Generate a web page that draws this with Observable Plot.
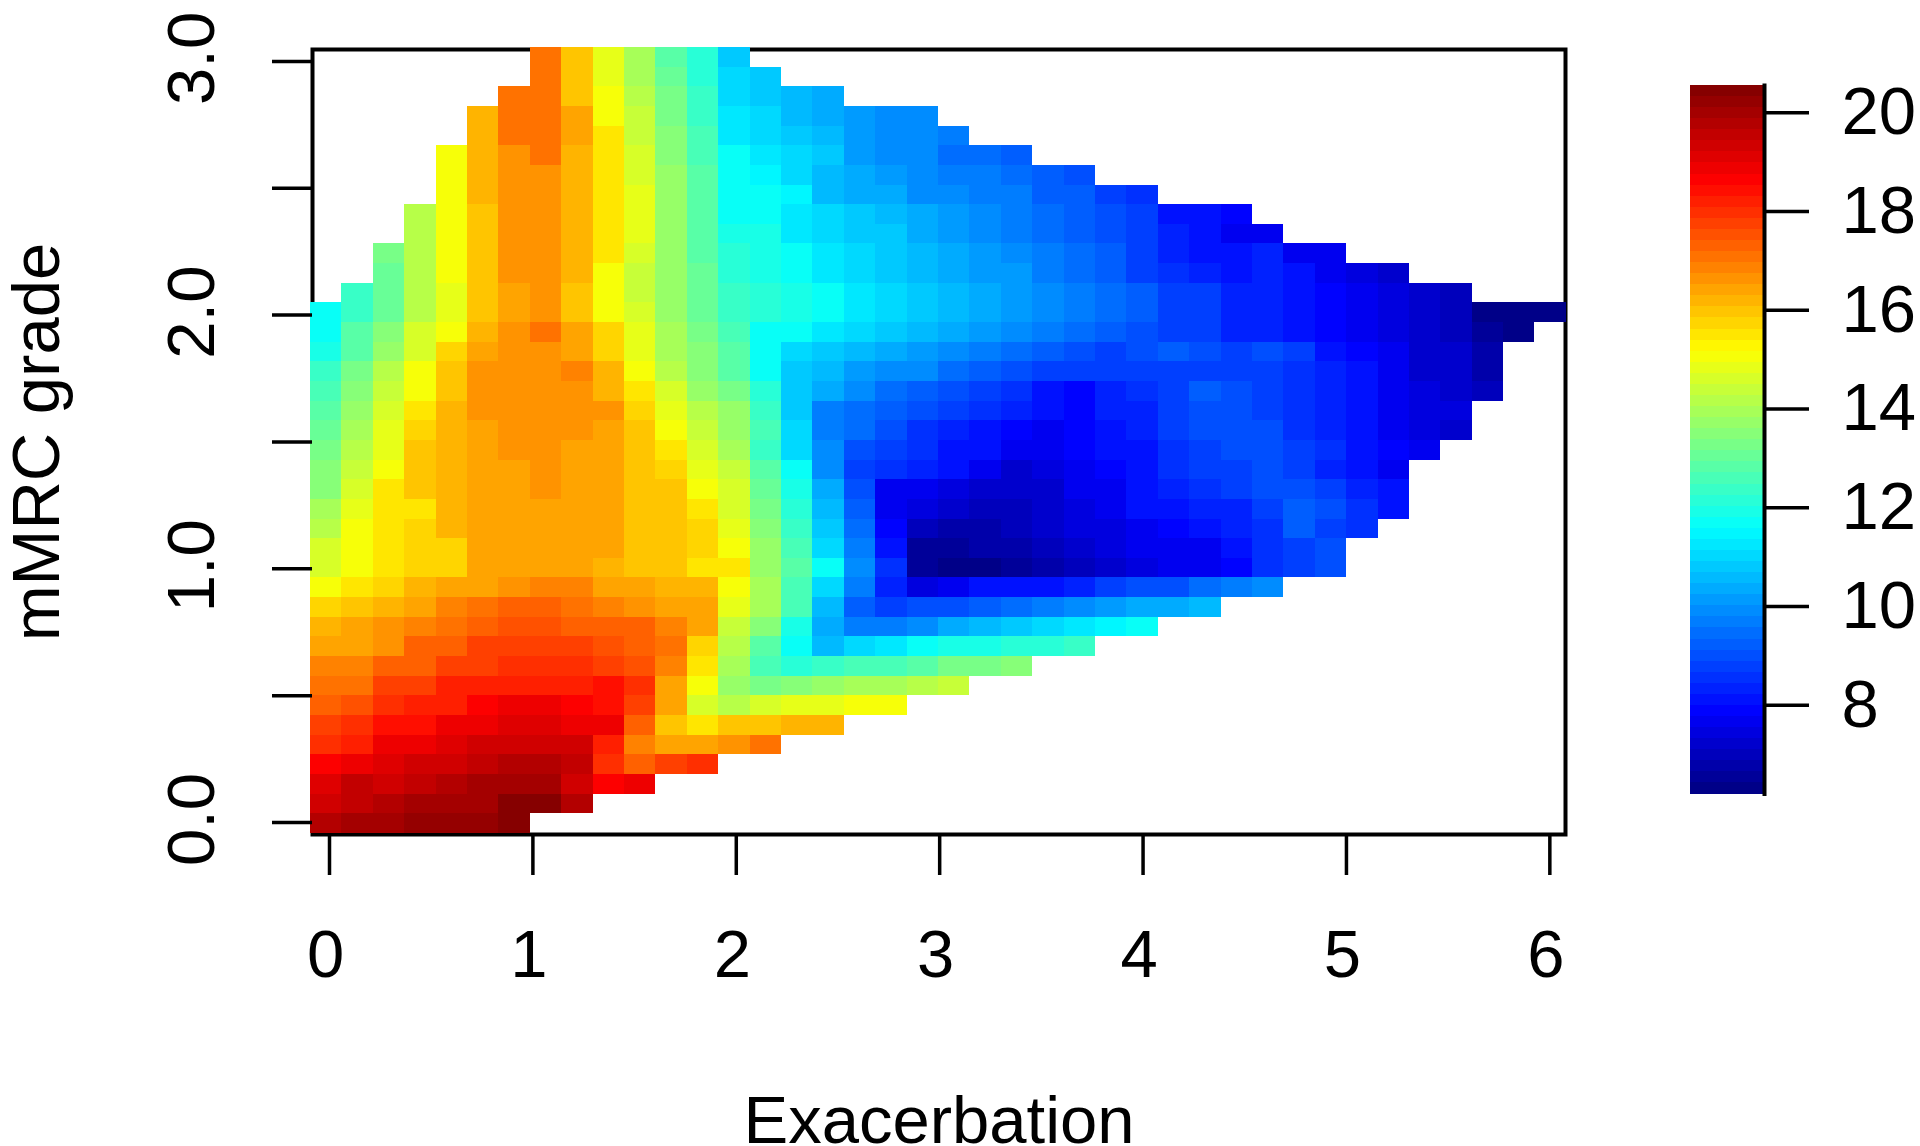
<!DOCTYPE html>
<html>
<head>
<meta charset="utf-8">
<script src="https://cdn.jsdelivr.net/npm/d3@7"></script>
<script src="https://cdn.jsdelivr.net/npm/@observablehq/plot@0.6"></script>
<style>
html,body{margin:0;padding:0;background:#fff;}
#wrap{position:relative;width:1920px;height:1146px;overflow:hidden;font-family:"Liberation Sans",Arial,sans-serif;}
#wrap svg{position:absolute;top:0;left:0;overflow:visible;background:transparent;}
#wrap g[aria-label$="tick"], #wrap g[aria-label$="tick"] path{stroke-width:3.5px !important;stroke:#000 !important;}
</style>
</head>
<body>
<div id="wrap"></div>
<script>
// Estimated outcome value per grid cell. Each row runs top (mMRC 3) to bottom (mMRC 0);
// rowStart gives the first filled column of the row.
const rowStart = [7,7,6,5,5,4,4,4,3,3,2,2,1,0,0,0,0,0,0,0,0,0,0,0,0,0,0,0,0,0,0,0,0,0,0,0,0,0,0,0];
const rowValues = [
[17.0,15.95,14.9,13.9,12.9,12.1,10.75],
[17.0,16.05,14.9,14.0,13.1,12.2,11.0,10.85],
[17.0,17.0,16.05,15.15,14.1,13.2,12.3,11.0,10.8,10.5,10.25],
[16.2,17.0,17.0,16.4,15.15,14.3,13.3,12.3,11.2,11.0,10.6,10.4,10.1,10.0,9.8],
[16.2,17.0,17.0,16.4,15.6,14.3,13.5,12.6,11.2,11.0,10.7,10.5,10.1,10.0,9.8,9.6],
[15.15,16.2,16.7,17.0,16.2,15.6,14.5,13.5,12.6,11.6,11.3,11.1,10.75,10.1,10.0,9.8,9.55,9.35,9.3],
[15.15,16.2,16.7,16.7,16.2,15.6,14.5,13.7,12.8,11.6,11.4,11.1,10.5,10.3,10.2,9.95,9.75,9.6,9.5,9.2,9.1],
[15.15,16.2,16.7,16.7,16.2,15.6,14.8,13.7,12.8,11.8,11.6,11.55,10.55,10.35,10.25,10.0,9.85,9.7,9.6,9.25,9.15,8.7,8.5],
[14.1,15.15,15.95,16.7,16.7,16.2,15.6,14.8,13.8,12.8,11.8,11.6,11.3,10.95,10.7,10.6,10.3,10.2,9.9,9.7,9.4,9.25,8.95,8.7,8.2,8.05,7.9],
[14.1,15.15,15.95,16.7,16.7,16.2,15.6,14.8,13.8,12.9,12.0,11.85,11.2,11.0,10.75,10.7,10.3,10.15,9.85,9.75,9.45,9.3,8.95,8.75,8.4,8.2,7.75,7.7],
[13.3,14.1,15.15,15.95,16.7,16.7,16.2,15.6,14.5,13.8,12.9,12.1,11.9,11.6,11.2,11.0,10.8,10.5,10.4,10.15,10.0,9.7,9.4,9.2,8.8,8.4,8.2,8.0,8.3,7.75,7.6],
[13.15,14.1,15.15,15.95,16.7,16.7,16.2,15.15,14.3,13.8,13.0,12.2,12.0,11.6,11.3,11.05,10.85,10.6,10.45,10.2,10.05,9.7,9.45,9.2,8.8,8.45,8.25,8.05,8.4,8.0,7.75,7.4,7.2],
[12.4,13.0,14.2,14.8,15.95,16.5,16.7,15.95,15.15,14.4,13.8,13.0,12.3,12.1,11.9,11.6,11.35,11.1,10.85,10.65,10.4,10.15,9.85,9.65,9.4,9.2,8.85,8.7,8.4,8.4,8.2,7.8,7.6,7.4,7.15,7.0],
[11.6,12.4,13.1,14.2,14.8,15.95,16.5,16.7,15.95,15.15,14.5,13.8,13.0,12.3,12.15,11.9,11.6,11.35,11.1,10.85,10.65,10.4,10.15,9.85,9.65,9.4,9.2,8.85,8.7,8.4,8.4,8.2,7.85,7.7,7.5,7.1,7.0,6.4,6.2,6.2],
[11.8,12.9,13.4,14.7,15.15,16.2,16.7,17.1,16.3,15.7,14.8,13.9,13.3,12.7,11.7,11.6,11.2,11.0,10.85,10.6,10.4,10.15,10.0,9.65,9.5,9.2,8.95,8.8,8.7,8.4,8.4,8.15,7.9,7.7,7.4,7.15,6.95,6.5,6.2],
[12.0,12.9,13.7,14.7,15.7,16.4,16.7,16.7,16.5,15.8,14.9,14.0,13.4,12.8,11.6,11.1,10.7,10.5,10.4,10.1,9.9,9.65,9.5,9.3,9.05,8.8,8.95,9.2,8.95,8.7,8.95,8.7,8.2,7.95,7.6,7.25,7.1,6.7],
[12.4,13.2,14.2,15.0,15.9,16.6,16.7,16.7,16.85,16.1,15.15,14.1,13.5,12.9,11.7,10.85,10.5,10.15,10.0,9.8,9.5,9.3,9.1,8.85,8.7,8.7,8.7,8.85,8.85,8.7,8.8,8.65,8.3,8.0,7.75,7.3,7.25,6.75],
[12.6,13.5,14.3,15.15,15.95,16.6,16.7,16.7,16.6,16.2,15.5,14.5,13.8,13.2,12.2,10.7,10.35,9.8,9.55,9.2,8.95,8.8,8.6,8.2,7.95,8.3,8.65,8.85,9.15,8.95,8.8,8.65,8.3,8.0,7.75,7.5,7.3,7.0],
[12.9,13.8,14.6,15.6,16.1,16.6,16.7,16.7,16.6,16.7,15.8,14.9,14.1,13.7,12.3,10.9,9.75,9.5,9.3,8.9,8.8,8.5,8.25,8.05,7.95,8.4,8.4,8.7,8.95,8.95,8.8,8.5,8.25,8.0,7.75,7.5,7.35],
[13.0,14.0,14.8,15.8,16.1,16.3,16.7,16.7,16.6,16.3,16.0,15.15,14.3,13.8,12.5,10.95,9.65,9.35,9.1,8.5,8.25,8.1,7.9,7.75,7.9,8.2,8.4,8.7,8.9,8.9,8.9,8.5,8.25,8.0,7.75,7.5,7.3],
[13.3,14.1,14.9,16.0,16.2,16.3,16.7,16.7,16.5,16.4,16.0,15.6,14.7,14.0,12.4,11.1,9.8,8.95,8.7,8.45,8.2,8.0,7.75,7.7,7.95,8.0,8.2,8.45,8.7,8.9,8.95,8.8,8.45,8.2,7.9,7.75],
[13.5,14.4,15.15,16.0,16.2,16.3,16.5,16.7,16.5,16.4,16.0,15.7,14.9,14.3,12.9,11.6,10.0,8.7,8.5,8.25,8.0,7.6,7.3,7.4,7.6,7.9,8.2,8.45,8.7,8.7,8.95,8.7,8.4,8.1,7.7],
[13.5,14.6,15.6,15.9,16.2,16.3,16.5,16.7,16.5,16.4,16.0,15.85,15.15,14.5,13.1,11.85,10.3,9.0,7.75,7.7,7.45,7.25,7.15,7.25,7.55,7.75,8.0,8.25,8.45,8.7,9.1,9.1,8.8,8.4,8.2],
[14.0,14.8,15.6,15.6,16.2,16.3,16.5,16.5,16.5,16.4,16.0,15.85,15.6,14.6,13.3,12.1,10.55,9.3,7.75,7.35,7.2,7.05,7.05,7.15,7.45,7.75,8.0,8.1,8.3,8.4,8.75,9.2,8.95,8.6,8.2],
[14.2,15.15,15.6,15.7,16.2,16.3,16.5,16.5,16.5,16.4,16.0,15.85,15.8,14.9,13.5,12.4,10.75,9.4,7.8,6.95,6.75,6.75,6.95,7.15,7.35,7.5,7.75,7.9,8.05,8.3,8.5,9.2,8.85,8.45],
[14.5,15.15,15.6,15.7,15.7,16.3,16.5,16.5,16.3,16.5,16.0,15.85,15.7,15.15,13.6,12.5,11.0,9.65,8.0,6.6,6.45,6.65,6.75,6.95,7.15,7.4,7.65,7.6,7.75,8.0,8.45,8.8,9.1],
[14.7,15.15,15.6,15.7,15.7,16.3,16.5,16.5,16.3,16.1,16.0,15.85,15.6,15.6,13.8,12.9,11.6,9.9,8.5,6.55,6.2,6.35,6.5,6.8,6.95,7.15,7.35,7.6,7.75,7.85,8.55,8.8,8.95],
[15.15,15.6,15.7,16.1,16.3,16.5,16.7,16.75,16.8,16.5,16.3,16.1,16.1,15.15,14.0,12.7,11.1,9.65,8.4,7.45,7.75,8.0,8.2,8.2,8.3,8.7,8.9,9.1,9.4,9.65,9.9],
[15.8,16.0,16.1,16.3,16.8,17.0,17.2,17.25,17.1,16.85,16.6,16.5,16.4,14.8,14.0,12.7,10.6,9.2,8.8,8.95,8.95,9.2,9.4,9.65,9.85,10.15,10.4,10.45,10.65],
[16.1,16.4,16.6,16.8,17.0,17.4,17.5,17.5,17.4,17.4,17.2,16.9,16.4,14.4,13.4,12.0,10.3,9.75,9.75,10.0,10.35,10.6,10.85,11.1,11.35,11.4,11.6],
[16.4,16.5,16.7,17.2,17.3,17.7,17.85,17.85,17.65,17.5,17.25,17.0,15.7,14.1,12.9,11.6,10.6,11.0,11.25,11.6,11.85,12.0,12.2,12.25,12.4],
[16.75,16.9,17.2,17.4,17.8,17.8,18.0,18.0,17.9,17.7,17.6,16.95,15.6,13.9,12.5,12.2,12.4,12.6,12.7,12.9,13.2,13.2,13.5],
[17.0,17.1,17.7,17.85,18.1,18.3,18.3,18.3,18.3,18.4,17.95,16.4,15.15,13.8,13.2,13.5,13.6,13.85,13.9,14.15,14.4],
[17.4,17.6,18.0,18.3,18.3,18.6,18.85,18.85,18.6,18.5,17.7,16.4,14.7,14.1,14.5,14.75,14.75,15.0,15.15],
[17.8,18.0,18.4,18.5,18.8,18.85,19.1,19.1,18.85,18.8,17.2,15.9,15.4,15.9,15.9,16.2,16.2],
[18.0,18.2,18.85,18.85,19.1,19.3,19.3,19.3,19.35,18.3,16.9,16.5,16.5,16.7,17.0],
[18.6,18.9,19.2,19.35,19.35,19.5,19.75,19.75,19.5,18.0,17.4,17.7,17.9],
[19.2,19.45,19.4,19.6,19.8,19.95,19.95,19.95,19.3,18.6,18.8],
[19.3,19.6,19.8,19.95,19.95,20.1,20.35,20.35,19.7],
[19.8,19.95,19.95,20.15,20.3,20.3,20.55]
];
const xTicks = [0,1,2,3,4,5,6];
const yTicks = [0,0.5,1,1.5,2,2.5,3];
const yLabelled = [0,1,2,3];
const barTicks = [8,10,12,14,16,18,20];
const xDomain = [-0.0836, 6.077];
const yDomain = [-0.0473, 3.047];
const gridX = {start: -0.0934, step: 0.15437};
const gridY = {top: 3.055, step: 0.07745};
const valueDomain = [6.2, 20.55];

// jet ramp of 64 colours
const jetRamp = d3.scaleLinear()
  .domain([0, 0.115, 0.375, 0.625, 0.865, 1])
  .range(["#00007f", "#0000ff", "#00ffff", "#ffff00", "#ff0000", "#7f0000"]);
const jet = d3.range(64).map(i => d3.rgb(jetRamp((i + 0.5) / 64)).formatHex());
const colorScale = {type: "quantize", domain: valueDomain, range: jet};

const cells = rowValues.flatMap((vals, r) => vals.map((v, k) => {
  const c = rowStart[r] + k;
  return {
    x1: gridX.start + c * gridX.step, x2: gridX.start + (c + 1) * gridX.step,
    y1: gridY.top - (r + 1) * gridY.step, y2: gridY.top - r * gridY.step, v
  };
}));

const FONT = '"Liberation Sans", Arial, sans-serif';
const main = Plot.plot({
  width: 1920, height: 1146,
  marginLeft: 312, marginRight: 355, marginTop: 49, marginBottom: 312,
  style: {fontFamily: FONT, background: "transparent", color: "#000"},
  x: {domain: xDomain, label: null},
  y: {domain: yDomain, label: null},
  color: colorScale,
  marks: [
    Plot.frame({stroke: "#000", strokeWidth: 4}),
    Plot.rect(cells, {x1: "x1", x2: "x2", y1: "y1", y2: "y2", fill: "v", shapeRendering: "crispEdges"}),
    // tick lines and axis titles
    Plot.axisX({ticks: xTicks, tickFormat: () => "", tickSize: 41, fontSize: 67,
      label: "Exacerbation", labelAnchor: "center", labelArrow: "none", labelOffset: 308, marginBottom: 312}),
    Plot.axisY({ticks: yTicks, tickFormat: () => "", tickSize: 40, fontSize: 67,
      label: "mMRC grade", labelAnchor: "center", labelArrow: "none", labelOffset: 301, marginLeft: 312}),
    // tick labels, nudged as in the source
    Plot.axisX({ticks: xTicks, tickFormat: d => String(d), tickSize: 0, tickPadding: 95, fontSize: 67, label: null, dx: -4}),
    Plot.axisY({ticks: yLabelled, tickFormat: d => d.toFixed(1), tickSize: 0, tickPadding: 99, tickRotate: -90, fontSize: 67, label: null, dy: -3})
  ]
});
document.getElementById("wrap").appendChild(main);

const levels = jet.map((c, i) => ({
  y1: valueDomain[0] + (valueDomain[1] - valueDomain[0]) * i / 64,
  y2: valueDomain[0] + (valueDomain[1] - valueDomain[0]) * (i + 1) / 64,
  v: valueDomain[0] + (valueDomain[1] - valueDomain[0]) * (i + 0.5) / 64
}));
const bar = Plot.plot({
  width: 1920, height: 1146,
  marginLeft: 1690, marginRight: 156, marginTop: 85, marginBottom: 352.5,
  style: {fontFamily: FONT, background: "transparent", color: "#000"},
  x: {domain: [0, 1], axis: null},
  y: {domain: valueDomain, label: null},
  color: colorScale,
  marks: [
    Plot.rect(levels, {x1: 0, x2: 1, y1: "y1", y2: "y2", fill: "v", shapeRendering: "crispEdges"}),
    Plot.frame({anchor: "right", stroke: "#000", strokeWidth: 4}),
    Plot.axisY({anchor: "right", ticks: barTicks, tickSize: 44, tickPadding: 33, fontSize: 67, label: null, textAnchor: "start"})
  ]
});
document.getElementById("wrap").appendChild(bar);
</script>
</body>
</html>
